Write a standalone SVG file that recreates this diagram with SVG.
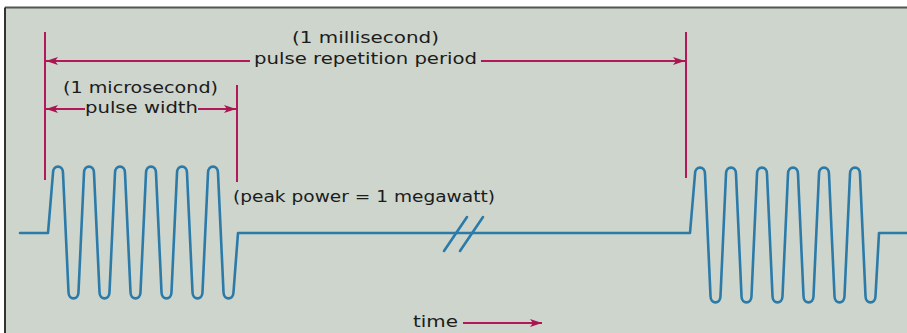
<svg xmlns="http://www.w3.org/2000/svg" width="907" height="333" viewBox="0 0 907 333">
<style>
  .lbl { font-family: "DejaVu Sans", "Liberation Sans", sans-serif; font-size: 15.5px; fill: #1c1c1c; }
  .dim { stroke: #b3185a; stroke-width: 2; fill: none; }
  .wave { stroke: #2c7aa8; stroke-width: 2.6; fill: none; stroke-linejoin: round; stroke-linecap: round; }
</style>
<defs>
  <marker id="arr" viewBox="0 0 12 8" refX="12" refY="4" markerWidth="12" markerHeight="8" markerUnits="userSpaceOnUse" orient="auto">
    <path d="M0,0 L12,4 L0,8 L3,4 z" fill="#a8154f"/>
  </marker>
</defs>
<rect x="0" y="0" width="907" height="333" fill="#ffffff"/>
<rect x="5" y="7.5" width="902" height="326" fill="#cdd5cd"/>
<line x1="5" y1="7.5" x2="907" y2="7.5" stroke="#555" stroke-width="2"/>
<line x1="5" y1="7.5" x2="5" y2="333" stroke="#333" stroke-width="2"/>

<g id="waveform">
  <path class="wave" d="M20,233 H48 L53,173 C53,164.5 63,164.5 63,173 L68.5,292 C68.5,300.5 78.5,300.5 78.5,292 L84,173 C84,164.5 94,164.5 94,173 L99.5,292 C99.5,300.5 109.5,300.5 109.5,292 L115,173 C115,164.5 125,164.5 125,173 L130.5,292 C130.5,300.5 140.5,300.5 140.5,292 L146,173 C146,164.5 156,164.5 156,173 L161.5,292 C161.5,300.5 171.5,300.5 171.5,292 L177,173 C177,164.5 187,164.5 187,173 L192.5,292 C192.5,300.5 202.5,300.5 202.5,292 L208,173 C208,164.5 218,164.5 218,173 L223.5,292 C223.5,300.5 233.5,300.5 233.5,292 L238,233 H690 L695,174 C695,165.5 705,165.5 705,174 L710.5,296 C710.5,304.5 720.5,304.5 720.5,296 L726,174 C726,165.5 736,165.5 736,174 L741.5,296 C741.5,304.5 751.5,304.5 751.5,296 L757,174 C757,165.5 767,165.5 767,174 L772.5,296 C772.5,304.5 782.5,304.5 782.5,296 L788,174 C788,165.5 798,165.5 798,174 L803.5,296 C803.5,304.5 813.5,304.5 813.5,296 L819,174 C819,165.5 829,165.5 829,174 L834.5,296 C834.5,304.5 844.5,304.5 844.5,296 L850,174 C850,165.5 860,165.5 860,174 L865.5,296 C865.5,304.5 875.5,304.5 875.5,296 L879,233 H907"/>
  <line class="wave" x1="444" y1="251" x2="467" y2="217"/>
  <line class="wave" x1="460" y1="251" x2="483" y2="217"/>
</g>

<g id="connectors">
  <line class="dim" x1="45" y1="32" x2="45" y2="180"/>
  <line class="dim" x1="237" y1="85" x2="237" y2="182"/>
  <line class="dim" x1="686" y1="32" x2="686" y2="178"/>
  <line class="dim" x1="250" y1="61" x2="46" y2="61" marker-end="url(#arr)"/>
  <line class="dim" x1="481" y1="61" x2="685" y2="61" marker-end="url(#arr)"/>
  <line class="dim" x1="85" y1="109" x2="46" y2="109" marker-end="url(#arr)"/>
  <line class="dim" x1="198" y1="109" x2="236" y2="109" marker-end="url(#arr)"/>
  <line class="dim" x1="463" y1="323" x2="542" y2="323" marker-end="url(#arr)"/>
</g>

<g id="labels">
  <text id="period-value" class="lbl" x="292" y="43" textLength="147" lengthAdjust="spacingAndGlyphs">(1 millisecond)</text>
  <text id="period-label" class="lbl" x="254" y="64" textLength="223" lengthAdjust="spacingAndGlyphs">pulse repetition period</text>
  <text id="width-value" class="lbl" x="63" y="93" textLength="155" lengthAdjust="spacingAndGlyphs">(1 microsecond)</text>
  <text id="width-label" class="lbl" x="85" y="113" textLength="113" lengthAdjust="spacingAndGlyphs">pulse width</text>
  <text id="peak-power" class="lbl" x="233" y="202" textLength="262" lengthAdjust="spacingAndGlyphs">(peak power = 1 megawatt)</text>
  <text id="time" class="lbl" x="413" y="327" textLength="45" lengthAdjust="spacingAndGlyphs">time</text>
</g>
</svg>
